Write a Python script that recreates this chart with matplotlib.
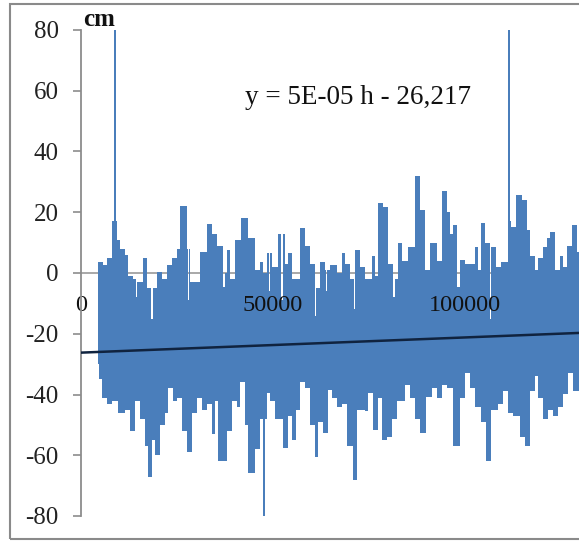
import matplotlib.pyplot as plt
from matplotlib.patches import Rectangle

# upper envelope of the hourly series (hour, cm)
up_h = [4500, 5800, 6700, 8000, 8600, 9000, 9300, 10200, 11500, 12300, 13600, 14300,
        14700, 16100, 17100, 18300, 18700, 19700, 21000, 22500, 23600, 24900, 25800,
        27500, 27800, 28100, 28400, 31000, 32700, 34000, 35300, 37100, 37500, 37900,
        38800, 40100, 41800, 43500, 45300, 46600, 47500, 48400, 48900, 49200, 49700,
        51400, 52200, 52500, 53100, 54000, 54900, 57000, 58300, 59600, 60900, 61300,
        62200, 63500, 63700, 64000, 64800, 66600, 67900, 68700, 70000, 71000, 71300,
        72700, 74000, 75700, 76600, 77400, 78700, 80000, 81300, 81700, 82600, 83500,
        85200, 87000, 88300, 89600, 90900, 92600, 93900, 95200, 96100, 96900, 97800,
        98700, 100000, 102600, 103500, 104300, 105200, 106500, 106900, 108200, 109500,
        111300, 111800, 112100, 113400, 114800, 116100, 116900, 118200, 119100, 120400,
        121300, 122100, 123400, 124700, 125600, 126500, 127800, 129100, 129700]
up_v = [3.6, 2.6, 5, 17, 80, 17, 11, 8, 6, -1, -2, -8,
        -3, 5, -5, -16, -5, 0.3, -2, 2.6, 5, 8, 22,
        8, -9, 8, -3, 7, 16, 13, 9, -4.5, 0, 7.5,
        -2, 11, 18, 11.5, 1, 3.6, 0, 6.6, -6, 6.6, 2,
        13, -9, 13, 3, 6.6, -2, 14.8, 9, 3, -14, -5,
        3.6, 1, -6, 1, 2.5, 0, 6.6, 3, -2, -12, 7.6,
        2, -2, 5.5, -1, 23, 21.7, 3, -8, -2, 10, 4,
        8.5, 32, 20.7, 1, 10, 4, 27, 20, 13, 15.8, -4.5,
        4.3, 3, 8.5, 1, 16.4, 10, -15, 8.5, 2, 3.5,
        80, 17, 15, 25.7, 24, 14, 5.5, 1, 5, 8.5,
        11.5, 13.5, 1, 5.5, 2, 9, 15.8, 7, 7]

# lower envelope (hour, cm)
lo_h = [4300, 4800, 5400, 6700, 8000, 9700, 11500, 12800, 14100, 15400, 16700, 17500,
        18400, 19300, 20600, 21900, 22700, 24000, 24900, 26200, 27500, 28800, 30100,
        31400, 32700, 34000, 34900, 35800, 37900, 39200, 40500, 41400, 42700, 43600,
        45300, 46600, 47500, 47900, 48400, 49200, 50500, 52700, 53800, 54900, 55900,
        57000, 58300, 59600, 60900, 61800, 63100, 64400, 65300, 66600, 67900, 69200,
        70900, 71800, 74000, 74800, 76100, 77400, 78300, 79600, 80900, 82200, 84400,
        85700, 87000, 88300, 89800, 91300, 92600, 93900, 95200, 96900, 98700, 100000,
        101300, 102600, 104300, 105600, 106900, 108700, 110000, 111300, 112600, 114300,
        115600, 116900, 118200, 119100, 120400, 121700, 123000, 124300, 125600, 126900,
        128200, 129700]
lo_v = [-30, -35, -41, -43, -42, -46, -45, -52, -42, -48, -57, -67,
        -55, -60, -50, -46, -38, -42, -41, -52, -59, -46, -41,
        -45, -43, -53, -42, -62, -52, -42, -44, -36, -50, -66,
        -58, -48, -80, -48, -39.6, -42, -48, -57.6, -47, -55, -45,
        -36, -38, -50, -60.5, -49, -52.6, -38.5, -41, -44, -43, -57,
        -68, -45, -45.5, -39.5, -51.6, -41, -55, -54, -48, -42, -37,
        -41, -48, -52.6, -40.7, -38, -41, -37, -38, -57, -41, -33,
        -38, -44, -49, -62, -45, -43, -39, -46, -47, -54,
        -57, -39, -34, -41, -48, -45, -47, -44, -40, -33,
        -39, -39]

# linear trend printed on the chart
slope = 5e-05
intercept = -26.217
h_max = 129700

y_ticks = [-80, -60, -40, -20, 0, 20, 40, 60, 80]
x_ticks = [0, 50000, 100000]

plt.rcParams['font.family'] = ['Liberation Serif', 'DejaVu Serif']
plt.rcParams['axes.unicode_minus'] = False

fig = plt.figure(figsize=(5.79, 5.41), dpi=100)
ax = fig.add_axes([81 / 579, 1 - 516 / 541, 1 - 81 / 579, (516 - 30) / 541])

blue = '#4a7ebb'
ax.fill_between(up_h, up_v, -25, step='post', color=blue, lw=0, zorder=1)
ax.fill_between(lo_h, -15, lo_v, step='post', color=blue, lw=0, zorder=1)

ax.plot([0, h_max], [intercept, slope * h_max + intercept], color='#10233f', lw=1.8, zorder=3)

ax.set_xlim(0, h_max)
ax.set_ylim(-80, 80)
ax.set_yticks(y_ticks)
ax.set_xticks(x_ticks)
ax.set_xticklabels([str(t) for t in x_ticks])

for s in ['top', 'right']:
    ax.spines[s].set_visible(False)
ax.spines['left'].set_color('#8c8c8c')
ax.spines['left'].set_linewidth(1.3)
ax.spines['bottom'].set_position(('data', 0))
ax.spines['bottom'].set_color('#9a9a9a')
ax.spines['bottom'].set_linewidth(1.2)
ax.spines['bottom'].set_zorder(0.5)

ax.tick_params(axis='y', direction='out', length=6, width=1.2, color='#8c8c8c',
               pad=10, labelsize=18, labelcolor='#222222')
ax.tick_params(axis='x', length=0, pad=16, labelsize=17.5, labelcolor='#111111')

ax.text(0.004, 0.997, 'cm', transform=ax.transAxes, fontsize=18, fontweight='bold',
        va='bottom', ha='left', color='#111111')
ax.text(0.33, 0.862, 'y = 5E-05 h - 26,217', transform=ax.transAxes, fontsize=19.5,
        va='center', ha='left', color='#111111')

fig.patches.append(Rectangle((10 / 579, 2 / 541), 1.2, 535 / 541, transform=fig.transFigure,
                             fill=False, edgecolor='#8a8a8a', lw=1.5))

fig.savefig('out.png', dpi=100, facecolor='white')
